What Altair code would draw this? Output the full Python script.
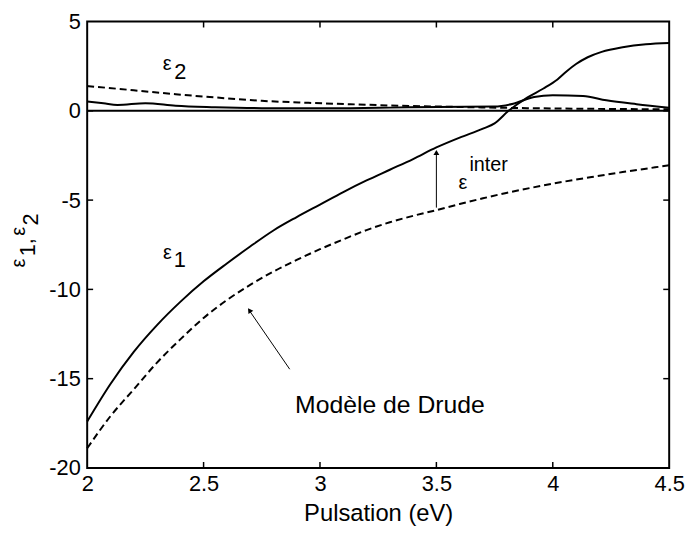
import altair as alt
import pandas as pd

# ---------------- data ----------------
# epsilon_1 (measured, solid)
E1_X = [2.0, 2.1, 2.2, 2.3, 2.4, 2.5, 2.6, 2.7, 2.8, 2.9, 3.0, 3.1, 3.2, 3.3, 3.4, 3.5, 3.6,
        3.7, 3.75, 3.81, 3.89, 3.96, 4.02, 4.06, 4.1, 4.15, 4.21, 4.3, 4.4, 4.5]
E1_Y = [-17.4, -15.3, -13.5, -12.0, -10.7, -9.55, -8.55, -7.6, -6.7, -5.95, -5.25, -4.55, -3.9,
        -3.3, -2.7, -2.05, -1.5, -1.0, -0.7, 0.0, 0.74, 1.25, 1.76, 2.22, 2.62, 3.0, 3.3, 3.56,
        3.73, 3.8]

# epsilon_1 Drude model (dashed)
D1_X = [2.0, 2.1, 2.2, 2.3, 2.4, 2.5, 2.6, 2.7, 2.8, 2.9, 3.0, 3.1, 3.2, 3.3, 3.4, 3.5, 3.6,
        3.7, 3.8, 3.9, 4.0, 4.1, 4.2, 4.3, 4.4, 4.5]
D1_Y = [-18.9, -17.1, -15.6, -14.1, -12.8, -11.6, -10.6, -9.75, -9.0, -8.35, -7.75, -7.2, -6.68,
        -6.24, -5.88, -5.56, -5.22, -4.9, -4.6, -4.33, -4.08, -3.85, -3.64, -3.43, -3.24, -3.05]

# epsilon_2 Drude model (dashed)
D2_X = [2.0, 2.2, 2.38, 2.55, 2.75, 2.95, 3.13, 3.3, 3.51, 3.7, 3.89, 4.1, 4.3, 4.5]
D2_Y = [1.39, 1.15, 0.93, 0.75, 0.56, 0.45, 0.37, 0.3, 0.24, 0.19, 0.15, 0.12, 0.1, 0.09]

# epsilon_2 (measured, solid)
E2_X = [2.0, 2.07, 2.13, 2.25, 2.38, 2.55, 2.75, 3.0, 3.13, 3.3, 3.51, 3.75, 3.83, 3.92, 4.0,
        4.13, 4.23, 4.36, 4.5]
E2_Y = [0.52, 0.42, 0.33, 0.43, 0.28, 0.2, 0.15, 0.14, 0.15, 0.18, 0.22, 0.24, 0.4, 0.78, 0.87,
        0.83, 0.59, 0.37, 0.17]

X_TICKS = [2, 2.5, 3, 3.5, 4, 4.5]
Y_TICKS = [-20, -15, -10, -5, 0, 5]
X_DOMAIN = [2, 4.5]
Y_DOMAIN = [-20, 5]

# ---------------- layout / style ----------------
FONT = "Liberation Sans"
PAD_TOP = 11
W, H = 588, 451
TICK_PX = 6

xs = alt.Scale(domain=X_DOMAIN, nice=False, zero=False)
ys = alt.Scale(domain=Y_DOMAIN, nice=False, zero=False)

X = alt.X("x:Q", scale=xs,
          axis=alt.Axis(values=X_TICKS, labelExpr="datum.value + ''", title="Pulsation (eV)",
                        grid=False, ticks=False, domain=False, labelPadding=6, titlePadding=7,
                        labelFontSize=22, titleFontSize=24, labelFont=FONT, titleFont=FONT,
                        labelColor="black", titleColor="black", titleFontWeight="normal",
                        labelFlush=False))
Y = alt.Y("y:Q", scale=ys,
          axis=alt.Axis(values=Y_TICKS, labelExpr="datum.value + ''", title=None,
                        grid=False, ticks=False, domain=False, labelPadding=7,
                        labelFontSize=22, labelFont=FONT, labelColor="black", labelFlush=False))


def line(xv, yv, dash=None):
    df = pd.DataFrame({"x": xv, "y": yv})
    kw = dict(color="black", strokeWidth=2, interpolate="monotone")
    if dash:
        kw["strokeDash"] = dash
    return alt.Chart(df).mark_line(**kw).encode(x=X, y=Y)


layers = []
# zero line
layers.append(alt.Chart(pd.DataFrame({"y": [0]})).mark_rule(color="black", strokeWidth=2).encode(y=Y))
layers.append(line(D2_X, D2_Y, [7, 4]))
layers.append(line(E2_X, E2_Y))
layers.append(line(D1_X, D1_Y, [7, 4]))
layers.append(line(E1_X, E1_Y))

# inward ticks (MATLAB style) on all four sides
dy = TICK_PX * (Y_DOMAIN[1] - Y_DOMAIN[0]) / H
dx = TICK_PX * (X_DOMAIN[1] - X_DOMAIN[0]) / W
rows = []
for t in X_TICKS[1:-1]:
    rows.append({"x": t, "x2": t, "y": Y_DOMAIN[0], "y2": Y_DOMAIN[0] + dy})
    rows.append({"x": t, "x2": t, "y": Y_DOMAIN[1], "y2": Y_DOMAIN[1] - dy})
for t in Y_TICKS[1:-1]:
    rows.append({"x": X_DOMAIN[0], "x2": X_DOMAIN[0] + dx, "y": t, "y2": t})
    rows.append({"x": X_DOMAIN[1], "x2": X_DOMAIN[1] - dx, "y": t, "y2": t})
layers.append(alt.Chart(pd.DataFrame(rows)).mark_rule(color="black", strokeWidth=1.5).encode(
    x=X, x2="x2:Q", y=Y, y2="y2:Q"))

# annotation arrows
ARROW1 = {"x": [3.5, 3.5], "y": [-5.42, -2.3]}
ARROW2 = {"x": [2.87, 2.70], "y": [-14.47, -11.25]}
layers.append(alt.Chart(pd.DataFrame(ARROW1)).mark_line(color="black", strokeWidth=1).encode(x=X, y=Y))
layers.append(alt.Chart(pd.DataFrame(ARROW2)).mark_line(color="black", strokeWidth=1).encode(x=X, y=Y))
layers.append(alt.Chart(pd.DataFrame({"x": [3.5], "y": [-2.33]})).mark_point(
    shape="triangle-up", filled=True, color="black", size=35, opacity=1).encode(x=X, y=Y))
layers.append(alt.Chart(pd.DataFrame({"x": [2.697], "y": [-11.17]})).mark_point(
    shape="triangle-up", filled=True, color="black", size=35, opacity=1, angle=326).encode(x=X, y=Y))


def txt(s, x, y, size, align="center", baseline="middle"):
    return alt.Chart(pd.DataFrame({"x": [x], "y": [y], "t": [s]})).mark_text(
        font=FONT, fontSize=size, color="black", align=align, baseline=baseline).encode(
        x=X, y=Y, text="t:N")


layers.append(txt("ε", 2.344, 2.6, 20))
layers.append(txt("2", 2.40, 2.15, 22))
layers.append(txt("ε", 2.345, -7.99, 20))
layers.append(txt("1", 2.398, -8.34, 22))
layers.append(txt("ε", 3.614, -4.05, 20))
layers.append(txt("inter", 3.642, -3.02, 20, align="left"))
layers.append(txt("Modèle de Drude", 2.893, -16.92, 25, align="left", baseline="alphabetic"))

# y-axis title "ε1, ε2" built from pieces (rotated); page pixel positions turned into plot offsets
one = pd.DataFrame({"a": [0]})
YT = [("ε", -69, 263, 20), ("1", -59.5, 250, 22), (",", -62, 241, 22),
      ("ε", -69, 231, 20), ("2", -57, 219, 22)]
for s, px, py_abs, fs in YT:
    layers.append(alt.Chart(one).mark_text(font=FONT, fontSize=fs, color="black", angle=270,
                                           align="center", baseline="middle").encode(
        x=alt.value(px), y=alt.value(py_abs - 8 - PAD_TOP), text=alt.value(s)))

chart = alt.layer(*layers).properties(
    width=W, height=H,
    autosize=alt.AutoSizeParams(type="none"),
    padding={"left": 80, "top": PAD_TOP, "right": 18, "bottom": 60},
    background="white",
).configure_view(stroke="black", strokeWidth=2)

chart.save("out.html", embed_options={"renderer": "svg", "actions": False})
